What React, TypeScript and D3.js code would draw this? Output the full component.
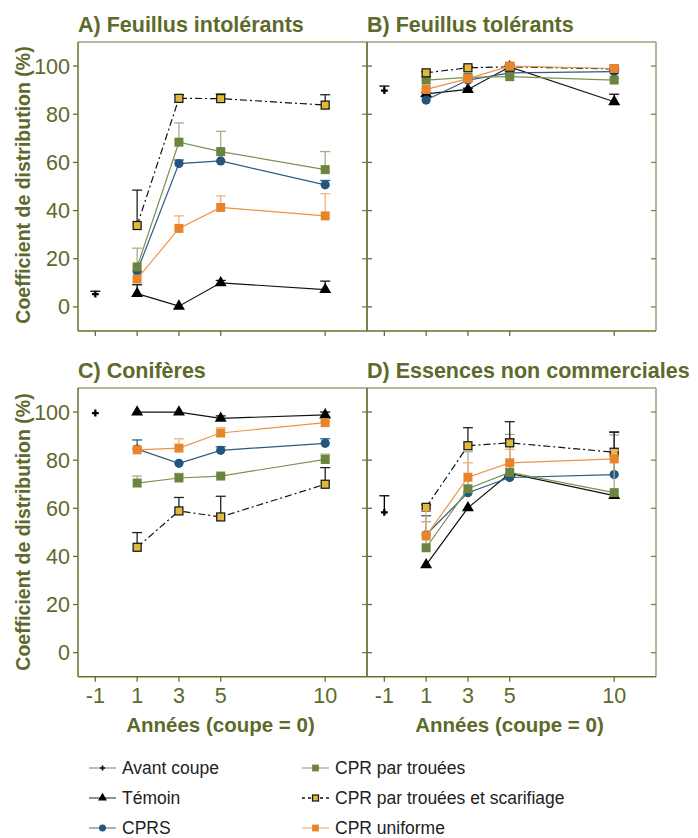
import * as d3 from 'd3';

const years = [1, 3, 5, 10];
const xTicks = [-1, 1, 3, 5, 10];
const yTicks = [0, 20, 40, 60, 80, 100];
const titles = ['A) Feuillus intolérants', 'B) Feuillus tolérants', 'C) Conifères', 'D) Essences non commerciales'];

// one value per panel (A, B, C, D), at year -1
const avantCoupe = [5.3, 89.8, 99.6, 58.3];
const avantCoupeErr = [1.2, 1.9, 0, 6.9];

// per panel: values at years 1, 3, 5, 10
const temoin = [[5.5, 0.3, 10, 7.2], [88.5, 90.3, 99.7, 85.2], [100, 100, 97.4, 98.8], [36.5, 60.2, 74.5, 65.3]];
const temoinErr = [[3.7, 0, 1, 3.5], [0.5, 0.5, 0.8, 3.1], [0, 0, 1, 1.2], [0, 0, 0, 0]];
const cprs = [[14.8, 59.5, 60.6, 50.7], [85.9, 94.2, 97.2, 97.7], [84.6, 78.7, 84.1, 87], [49, 66.5, 72.8, 74]];
const cprsErr = [[0, 1.5, 0, 1.8], [0, 0.5, 0.5, 0.5], [3.8, 0, 1.5, 1.9], [7.9, 0, 16, 17.8]];
const trouees = [[16.6, 68.4, 64.5, 57], [94.2, 95.3, 95.6, 94.2], [70.5, 72.6, 73.4, 80.3], [43.6, 68.1, 74.9, 66.5]];
const troueesErr = [[7.8, 8, 8.4, 7.5], [1, 0.5, 0.5, 0.5], [2.9, 1.9, 0.5, 2.2], [10.8, 15.4, 15.8, 24]];
const scarif = [[33.8, 86.6, 86.5, 83.8], [97.2, 99.3, 99.7, 98.8], [43.8, 58.9, 56.4, 70], [60.4, 86, 87.2, 83.3]];
const scarifErr = [[14.7, 1.4, 1.9, 4.3], [0.5, 0.5, 0.5, 0.5], [6.1, 5.6, 8.6, 6.9], [1, 7.5, 8.8, 8.3]];
const uniforme = [[11.6, 32.6, 41.3, 37.8], [90.3, 94.8, 100, 99], [84.3, 85, 91.3, 95.6], [48.5, 72.9, 78.9, 80.5]];
const uniformeErr = [[0, 5.2, 4.8, 9.2], [0.5, 0.5, 0.5, 0.5], [0.8, 3.9, 2.2, 0.6], [10.4, 6, 5.6, 3.7]];

const olive = '#5d6a2b';
const font = 'Liberation Sans, Arial, sans-serif';

type Series = {
  name: string;
  values: number[][];
  errs: number[][];
  line: string;
  legendLine: string;
  err: string;
  fill: string;
  stroke: string;
  shape: 'triangle' | 'circle' | 'square';
  dash?: string;
};

const series: Series[] = [
  { name: 'Témoin', values: temoin, errs: temoinErr, line: '#111', legendLine: '#555', err: '#111', fill: '#000', stroke: 'none', shape: 'triangle' },
  { name: 'CPRS', values: cprs, errs: cprsErr, line: '#2b5a84', legendLine: '#6d8aa6', err: '#2f5d86', fill: '#22557f', stroke: 'none', shape: 'circle' },
  { name: 'CPR par trouées', values: trouees, errs: troueesErr, line: '#7c9150', legendLine: '#a3b088', err: '#a5b08a', fill: '#6c843d', stroke: 'none', shape: 'square' },
  { name: 'CPR par trouées et scarifiage', values: scarif, errs: scarifErr, line: '#111', legendLine: '#111', err: '#222', fill: '#e1b93d', stroke: '#111', shape: 'square', dash: '7,3,2,3' },
  { name: 'CPR uniforme', values: uniforme, errs: uniformeErr, line: '#ec9446', legendLine: '#f2b682', err: '#f2b27c', fill: '#e8852a', stroke: 'none', shape: 'square' },
];

const panelX = [[78, 367], [367, 656], [78, 367], [367, 656]];
const panelY = [[331, 42], [331, 42], [676.7, 388], [676.7, 388]];

function Marker({ shape, x, y, fill, stroke, s = 1 }: { shape: string; x: number; y: number; fill: string; stroke: string; s?: number }) {
  if (shape === 'circle') return <circle cx={x} cy={y} r={4.6 * s} fill={fill} />;
  if (shape === 'square') {
    const h = (stroke === 'none' ? 4.5 : 4) * s;
    return <rect x={x - h} y={y - h} width={2 * h} height={2 * h} fill={fill} stroke={stroke} strokeWidth={1.2} />;
  }
  if (shape === 'cross') {
    const p = d3.symbol().type(d3.symbolCross).size(26 * s * s)();
    return <path d={p ?? ''} transform={`translate(${x},${y})`} fill={fill} />;
  }
  const p = d3.symbol().type(d3.symbolTriangle).size(62 * s * s)();
  return <path d={p ?? ''} transform={`translate(${x},${y})`} fill={fill} />;
}

function Panel({ i }: { i: number }) {
  const [x0, x1] = panelX[i];
  const [yb, yt] = panelY[i];
  const x = d3.scaleLinear().domain([-1.83, 12]).range([x0, x1]);
  const y = d3.scaleLinear().domain([-10, 110]).range([yb, yt]);
  const left = i % 2 === 0;
  const bottom = i >= 2;
  const line = d3.line<number>().x((_, k) => x(years[k])).y((d) => y(d));

  const errBar = (cx: number, v: number, e: number, color: string, key: string) =>
    e > 0 ? (
      <g key={key} stroke={color} strokeWidth={1.3}>
        <line x1={cx} x2={cx} y1={y(v)} y2={y(v + e)} />
        <line x1={cx - 5} x2={cx + 5} y1={y(v + e)} y2={y(v + e)} />
      </g>
    ) : null;

  return (
    <g>
      <text x={x0} y={bottom ? 378 : 32} fill={olive} fontSize={21.5} fontWeight="bold" fontFamily={font}>
        {titles[i]}
      </text>
      {/* frame */}
      <line x1={x0} x2={x1} y1={yt} y2={yt} stroke="#9da17a" strokeWidth={1.5} />
      <line x1={x1} x2={x1} y1={yt} y2={yb} stroke="#9da17a" strokeWidth={1.5} />
      <line x1={x0} x2={x1} y1={yb} y2={yb} stroke="#66702f" strokeWidth={1.5} />
      <line x1={x0} x2={x0} y1={yt} y2={yb} stroke="#66702f" strokeWidth={1.5} />
      {yTicks.map((t) => (
        <g key={'y' + t}>
          <line x1={left ? x0 - 5 : x0} x2={x0 + (left ? 0 : 5)} y1={y(t)} y2={y(t)} stroke="#66702f" strokeWidth={1.3} />
          <line x1={x1 - 5} x2={x1} y1={y(t)} y2={y(t)} stroke="#7d8450" strokeWidth={1.3} />
          {left && (
            <text x={x0 - 8} y={y(t) + 7.5} textAnchor="end" fill={olive} fontSize={21.5} fontFamily={font}>
              {t}
            </text>
          )}
        </g>
      ))}
      {xTicks.map((t) => (
        <g key={'x' + t}>
          <line x1={x(t)} x2={x(t)} y1={yb} y2={yb + 5} stroke="#66702f" strokeWidth={1.3} />
          {bottom && (
            <text x={x(t)} y={yb + 26} textAnchor="middle" fill={olive} fontSize={21.5} fontFamily={font}>
              {t}
            </text>
          )}
        </g>
      ))}
      {bottom && (
        <text x={(x0 + x1) / 2 - 2} y={732} textAnchor="middle" fill={olive} fontSize={20.5} fontWeight="bold" fontFamily={font}>
          Années (coupe = 0)
        </text>
      )}
      {/* avant coupe */}
      {errBar(x(-1), avantCoupe[i], avantCoupeErr[i], '#000', 'av')}
      <Marker shape="cross" x={x(-1)} y={y(avantCoupe[i])} fill="#000" stroke="none" />
      {series.map((s) => (
        <g key={s.name}>
          {s.values[i].map((v, k) => errBar(x(years[k]), v, s.errs[i][k], s.err, s.name + k))}
          <path d={line(s.values[i]) ?? ''} fill="none" stroke={s.line} strokeWidth={1.2} strokeDasharray={s.dash} />
          {s.values[i].map((v, k) => (
            <Marker key={k} shape={s.shape} x={x(years[k])} y={y(v)} fill={s.fill} stroke={s.stroke} />
          ))}
        </g>
      ))}
    </g>
  );
}

const legendItems = [
  { name: 'Avant coupe', shape: 'cross', line: '#9aa07a', fill: '#000', stroke: 'none', dash: undefined as string | undefined },
  ...series.map((s) => ({ name: s.name, shape: s.shape, line: s.legendLine, fill: s.fill, stroke: s.stroke, dash: s.dash ? '3,3' : undefined })),
];
const legendOrder = [0, 3, 1, 4, 2, 5];

export default function App() {
  return (
    <svg width={698} height={838} style={{ position: 'absolute', left: 0, top: 0, background: '#fff' }}>
      {[0, 1, 2, 3].map((i) => (
        <Panel key={i} i={i} />
      ))}
      {[185, 532].map((cy) => (
        <text key={cy} transform={`translate(30,${cy}) rotate(-90)`} textAnchor="middle" fill={olive} fontSize={19.5} fontWeight="bold" fontFamily={font}>
          Coefficient de distribution (%)
        </text>
      ))}
      {legendOrder.map((idx, j) => {
        const it = legendItems[idx];
        const col = j % 2;
        const row = Math.floor(j / 2);
        const lx = col === 0 ? 89 : 302;
        const cy = 768 + row * 30;
        return (
          <g key={it.name}>
            <line x1={lx} x2={lx + 27} y1={cy} y2={cy} stroke={it.line} strokeWidth={1.3} strokeDasharray={it.dash} />
            <Marker shape={it.shape} x={lx + 13.5} y={cy} fill={it.fill} stroke={it.stroke} s={0.75} />
            <text x={lx + 33} y={cy + 6} fill="#222" fontSize={17.5} fontFamily={font}>
              {it.name}
            </text>
          </g>
        );
      })}
    </svg>
  );
}
